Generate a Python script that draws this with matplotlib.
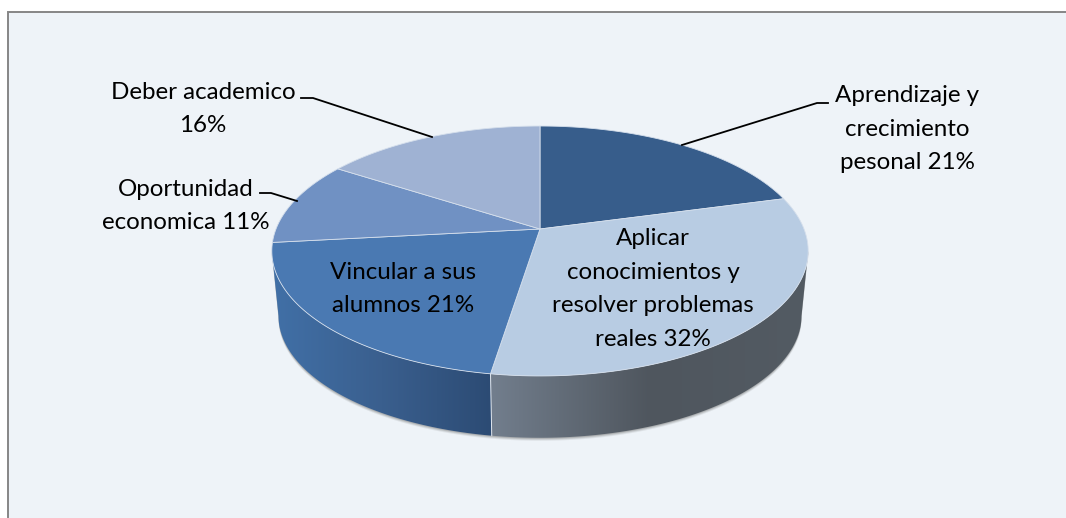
# Pastel 3D con perspectiva, dibujado a mano sobre ejes en pixeles
import numpy as np
import matplotlib
matplotlib.use("Agg")
import matplotlib.pyplot as plt
from matplotlib.colors import LinearSegmentedColormap
from matplotlib.patches import Polygon

# Datos
etiquetas = ["Aprendizaje y\ncrecimiento\npesonal 21%",
             "Aplicar\nconocimientos y\nresolver problemas\nreales 32%",
             "Vincular a sus\nalumnos 21%",
             "Oportunidad\neconomica 11%",
             "Deber academico\n16%"]
valores = [21, 32, 21, 11, 16]
colores = ["#375d8b", "#b8cce3", "#4a79b2", "#7091c3", "#9fb2d3"]

# Geometria del pastel (pixeles de la imagen)
cx, cy = 540, 229
a, b, k = 264, 121.1, 0.176
escala_base, caida = 0.975, 65.5
fuente = "Lato"
tam = 17.4

plt.rcParams["font.family"] = fuente
fig = plt.figure(figsize=(10.66, 5.18), dpi=100, facecolor="white")
ax = fig.add_axes([0, 0, 1, 1])
ax.set_xlim(0, 1066)
ax.set_ylim(518, 0)
ax.axis("off")

# Fondo y borde
ax.add_patch(Polygon([(8, 12), (1067, 12), (1067, 518), (8, 518)], closed=True,
                     facecolor="#eef3f8", edgecolor="none", zorder=0))
ax.plot([8, 8, 1066], [517, 12, 12], color="#868686", lw=1.4, zorder=1,
        solid_joinstyle="miter")


def proyectar(phi):
    # phi en grados desde arriba, en sentido horario
    r = np.radians(phi)
    x, y = np.sin(r), np.cos(r)
    d = 1 + k * y
    return cx + a * x / d, cy - b * y / d


def borde_base(phi):
    x, y = proyectar(phi)
    return cx + escala_base * (x - cx), cy + escala_base * (y - cy) + caida


def pared(phi1, phi2, cols, z):
    phis = np.linspace(phi1, phi2, 120)
    xs, ys = proyectar(phis)
    xb, yb = borde_base(phis)
    pts = np.column_stack([np.r_[xs, xb[::-1]], np.r_[ys, yb[::-1]]])
    # sombra suave debajo de la pared
    for desp, alfa in [(3, 0.10), (2, 0.16), (1, 0.22)]:
        ax.add_patch(Polygon(pts + [0, desp], closed=True, facecolor="#505050",
                             edgecolor="none", alpha=alfa, zorder=z - 1))
    cmap = LinearSegmentedColormap.from_list("g", [c for _, c in cols])
    ext = [pts[:, 0].min(), pts[:, 0].max()]
    xg = np.linspace(0, 1, 256)
    pos = np.array([p for p, _ in cols])
    idx = np.interp(xg, pos, np.linspace(0, 1, len(cols)))
    im = ax.imshow(idx[None, :], extent=[ext[0], ext[1], 440, 240], aspect="auto",
                   cmap=cmap, vmin=0, vmax=1, zorder=z, interpolation="bilinear")
    clip = Polygon(pts, closed=True, transform=ax.transData, facecolor="none",
                   edgecolor="none")
    ax.add_patch(clip)
    im.set_clip_path(clip)
    ax.set_xlim(0, 1066)
    ax.set_ylim(518, 0)


# Angulos de cada rebanada
acum = np.cumsum([0] + valores) / sum(valores) * 360
tan_der = np.degrees(np.arccos(-k))
tan_izq = 360 - tan_der

pared(acum[2], tan_izq, [(0, "#4170a7"), (0.5, "#3a5f8e"), (1, "#2c4b74")], 3)
pared(tan_der, acum[2], [(0, "#727e8d"), (0.5, "#4f565e"), (1, "#535b63")], 3)

# Arista vertical entre las dos paredes
x_a, y_a = proyectar(acum[2])
x_b, y_b = borde_base(acum[2])
ax.plot([x_a, x_b], [y_a, y_b], color="#dfe6ee", lw=0.7, zorder=4)

# Caras superiores
for i in range(len(valores)):
    phis = np.linspace(acum[i], acum[i + 1], 100)
    xs, ys = proyectar(phis)
    pts = np.column_stack([np.r_[cx, xs], np.r_[cy, ys]])
    ax.add_patch(Polygon(pts, closed=True, facecolor=colores[i], edgecolor="#d5dfec",
                         lw=0.6, zorder=5))

# Lineas guia
guias_x = [[828, 817, 682], [260, 271, 297], [301, 313, 432]]
guias_y = [[103, 103, 145], [193, 193, 201], [98, 98, 137]]
for gx, gy in zip(guias_x, guias_y):
    ax.plot(gx, gy, color="black", lw=1.3, zorder=6)

# Textos
pos_x = [907, 653, 403, 186, 203]
pos_y = [129, 289, 289, 206, 109]
for t, x, y in zip(etiquetas, pos_x, pos_y):
    ax.text(x, y, t, ha="center", va="center", fontsize=tam, color="black",
            linespacing=1.74, zorder=7)

fig.savefig("out.png", dpi=100, facecolor="white")
